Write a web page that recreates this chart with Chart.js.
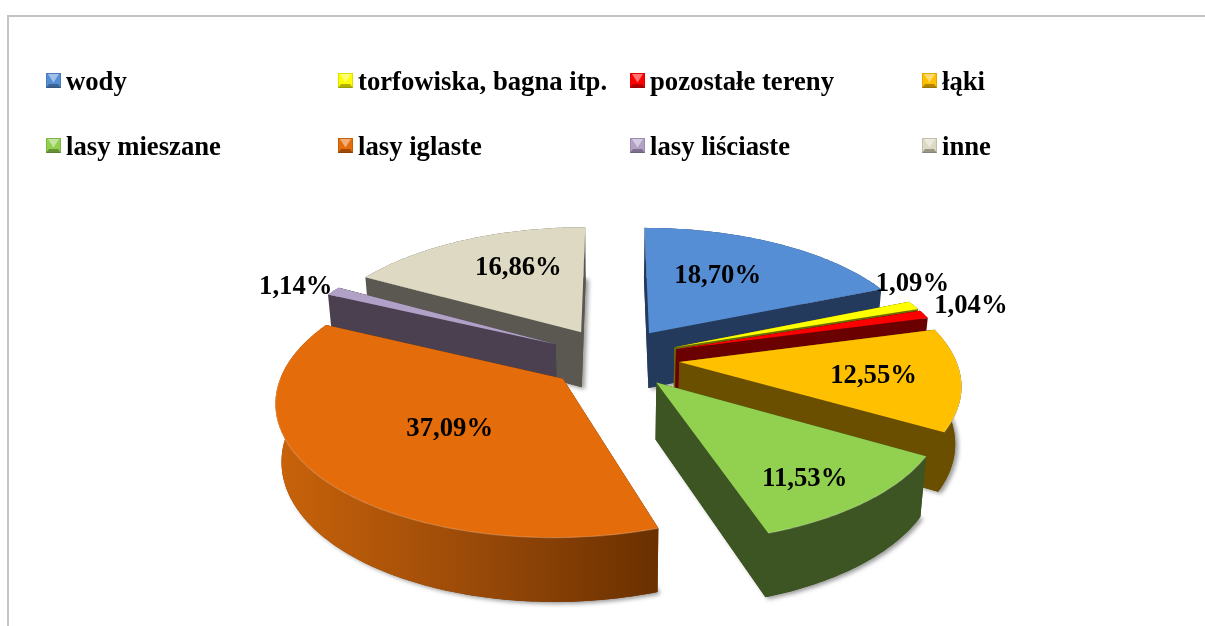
<!DOCTYPE html>
<html lang="pl">
<head>
<meta charset="utf-8">
<title>Struktura terenu</title>
<script src="https://cdn.jsdelivr.net/npm/chart.js@4"></script>
<style>
  html, body { margin: 0; padding: 0; background: #fff; overflow: hidden; }
  #box { position: absolute; left: 0; top: 0; width: 1205px; height: 626px; }
  #frame { position: absolute; left: 7px; top: 15px; right: -5px; bottom: -5px; border: 2px solid #c4c4c4; }
</style>
</head>
<body>
<div id="box">
  <div id="frame"></div>
  <canvas id="pieChart" width="1205" height="626"></canvas>
</div>
<script>
// Dane
var categories = ['wody', 'torfowiska, bagna itp.', 'pozostałe tereny', 'łąki', 'lasy mieszane', 'lasy iglaste', 'lasy liściaste', 'inne'];
var shares = [18.70, 1.09, 1.04, 12.55, 11.53, 37.09, 1.14, 16.86];
var topColors = ['#558ed5', '#ffff00', '#ff0000', '#ffc000', '#92d050', '#e46c0a', '#b2a1c7', '#ddd9c3'];
var sideColors = ['#243a5c', '#6b6b00', '#6b0000', '#6a4f00', '#3d5423', '#7a3a05', '#4a4050', '#5a5850'];

// Wygląd 3D
var RADIUS = 276;
var EXPLODE = 66;        // odsunięcie wycinka w px
var TILT = 0.464;        // spłaszczenie osi pionowej
var PERSPECTIVE = 0.000544;
var DEPTH = 56;
var labelFont = 'bold 26.7px "Liberation Serif"';
var labelRadius = [0.49, 1.03, 1.165, 0.68, 0.78, 0.5, 1.08, 0.5];
var labelNudge = [[2, -11], [-8, -20], [8, -3], [4, 2], [-10, 6], [1, 3], [-21, 0], [-1, -15]];
var legendCols = [46, 338, 630, 922];
var legendRows = [73, 138];

function project(arc, u, v, low) {
  var w = 1 / (1 - PERSPECTIVE * v);
  if (!low) return [arc.x + u * w, arc.y + TILT * v * w];
  var wb = 1 + (w - 1) * 0.7;
  return [arc.x + u * w * 0.982, arc.y + TILT * v * w + DEPTH * wb];
}

// punkt w płaszczyźnie wycinka, z uwzględnieniem offsetu
function planePoint(arc, angle, r) {
  var mid = (arc.startAngle + arc.endAngle) / 2;
  var off = arc.options.offset / 4;
  return [Math.cos(mid) * off + Math.cos(angle) * r, Math.sin(mid) * off + Math.sin(angle) * r];
}

function rimAngles(arc) {
  var list = [];
  var n = Math.max(2, Math.ceil((arc.endAngle - arc.startAngle) / 0.015));
  for (var i = 0; i <= n; i++) list.push(arc.startAngle + (arc.endAngle - arc.startAngle) * i / n);
  return list;
}

function fillPoly(ctx, pts, color) {
  ctx.beginPath();
  pts.forEach(function (p, i) { if (i) ctx.lineTo(p[0], p[1]); else ctx.moveTo(p[0], p[1]); });
  ctx.closePath();
  ctx.fillStyle = color;
  ctx.fill();
}

function at(arc, angle, r, low) {
  var p = planePoint(arc, angle, r);
  return project(arc, p[0], p[1], low);
}

function wall(arc, angle, color, ctx) {
  fillPoly(ctx, [at(arc, 0, 0), at(arc, angle, arc.outerRadius), at(arc, angle, arc.outerRadius, true), at(arc, 0, 0, true)], color);
}

function drawSlice(ctx, arc, index) {
  var R = arc.outerRadius;
  var angles = rimAngles(arc);
  var side = sideColors[index];
  var top = [at(arc, 0, 0)].concat(angles.map(function (a) { return at(arc, a, R); }));
  var bottom = [at(arc, 0, 0, true)].concat(angles.map(function (a) { return at(arc, a, R, true); }));

  // cień całej bryły
  ctx.save();
  ctx.shadowColor = 'rgba(0,0,0,0.4)';
  ctx.shadowBlur = 4;
  ctx.shadowOffsetX = 3;
  ctx.shadowOffsetY = 2;
  fillPoly(ctx, bottom, side);
  ctx.restore();
  fillPoly(ctx, top, side);

  // ściany boczne: najpierw ta bardziej z tyłu
  var walls = [
    { a: arc.startAngle, front: -Math.cos(arc.startAngle) },
    { a: arc.endAngle, front: Math.cos(arc.endAngle) }
  ].sort(function (x, y) { return x.front - y.front; });
  walls.forEach(function (w) { wall(arc, w.a, side, ctx); });

  // ściana zewnętrzna, tylko część widoczna od przodu
  var facing = angles.filter(function (a) { return Math.sin(a) > -0.02; });
  if (facing.length > 1) {
    var upper = facing.map(function (a) { return at(arc, a, R); });
    var lower = facing.map(function (a) { return at(arc, a, R, true); }).reverse();
    var fill = side;
    if (index === 5) {
      var g = ctx.createLinearGradient(upper[upper.length - 1][0], 0, upper[0][0], 0);
      g.addColorStop(0, '#c8620a');
      g.addColorStop(0.55, '#964808');
      g.addColorStop(1, '#6a3000');
      fill = g;
    }
    fillPoly(ctx, upper.concat(lower), fill);
  }

  fillPoly(ctx, top, arc.options.backgroundColor);

  // jasna krawędź
  if (facing.length > 1) {
    ctx.beginPath();
    facing.forEach(function (a, i) {
      var p = at(arc, a, R);
      if (i) ctx.lineTo(p[0], p[1]); else ctx.moveTo(p[0], p[1]);
    });
    ctx.strokeStyle = 'rgba(255,255,255,0.22)';
    ctx.lineWidth = 1.2;
    ctx.stroke();
  }
}

function drawLegendBox(ctx, x, y, color) {
  var s = 15, cx = x + s / 2, cy = y + s / 2;
  ctx.fillStyle = color;
  ctx.fillRect(x, y, s, s);
  fillPoly(ctx, [[x + 2, y + 1], [x + s - 2, y + 1], [cx, cy + 2]], 'rgba(255,255,255,0.45)');
  fillPoly(ctx, [[x, y + s], [x + s, y + s], [x + s - 3, y + s - 4], [x + 3, y + s - 4]], 'rgba(0,0,0,0.3)');
  ctx.strokeStyle = 'rgba(0,0,0,0.12)';
  ctx.lineWidth = 1;
  ctx.strokeRect(x + 0.5, y + 0.5, s - 1, s - 1);
}

var pie3d = {
  id: 'pie3d',
  beforeDatasetsDraw: function (chart) {
    var ctx = chart.ctx;
    var arcs = chart.getDatasetMeta(0).data.map(function (arc, i) { return { arc: arc, i: i }; });
    // od tyłu do przodu
    arcs.sort(function (a, b) {
      return Math.sin((a.arc.startAngle + a.arc.endAngle) / 2) - Math.sin((b.arc.startAngle + b.arc.endAngle) / 2);
    });
    arcs.forEach(function (o) { drawSlice(ctx, o.arc, o.i); });
    return false;
  },
  afterDraw: function (chart) {
    var ctx = chart.ctx;
    ctx.save();
    ctx.font = labelFont;
    ctx.fillStyle = '#000';
    ctx.textAlign = 'center';
    ctx.textBaseline = 'middle';
    chart.getDatasetMeta(0).data.forEach(function (arc, i) {
      var mid = (arc.startAngle + arc.endAngle) / 2;
      var p = at(arc, mid, arc.outerRadius * labelRadius[i]);
      ctx.fillStyle = '#000';
      ctx.fillText(shares[i].toFixed(2).replace('.', ',') + '%', p[0] + labelNudge[i][0], p[1] + labelNudge[i][1]);
    });
    // legenda 4 x 2
    ctx.textAlign = 'left';
    categories.forEach(function (name, i) {
      var x = legendCols[i % 4], y = legendRows[Math.floor(i / 4)];
      drawLegendBox(ctx, x, y, topColors[i]);
      ctx.fillStyle = '#000';
      ctx.fillText(name, x + 20, y + 10);
    });
    ctx.restore();
  }
};

var chart = new Chart(document.getElementById('pieChart').getContext('2d'), {
  type: 'pie',
  data: {
    labels: categories,
    datasets: [{
      data: shares,
      backgroundColor: topColors,
      borderWidth: 0,
      offset: EXPLODE * 4
    }]
  },
  options: {
    responsive: false,
    animation: false,
    radius: RADIUS,
    layout: { padding: { left: 22, top: 90 } },
    plugins: { legend: { display: false }, tooltip: { enabled: false } }
  },
  plugins: [pie3d]
});
</script>
</body>
</html>
